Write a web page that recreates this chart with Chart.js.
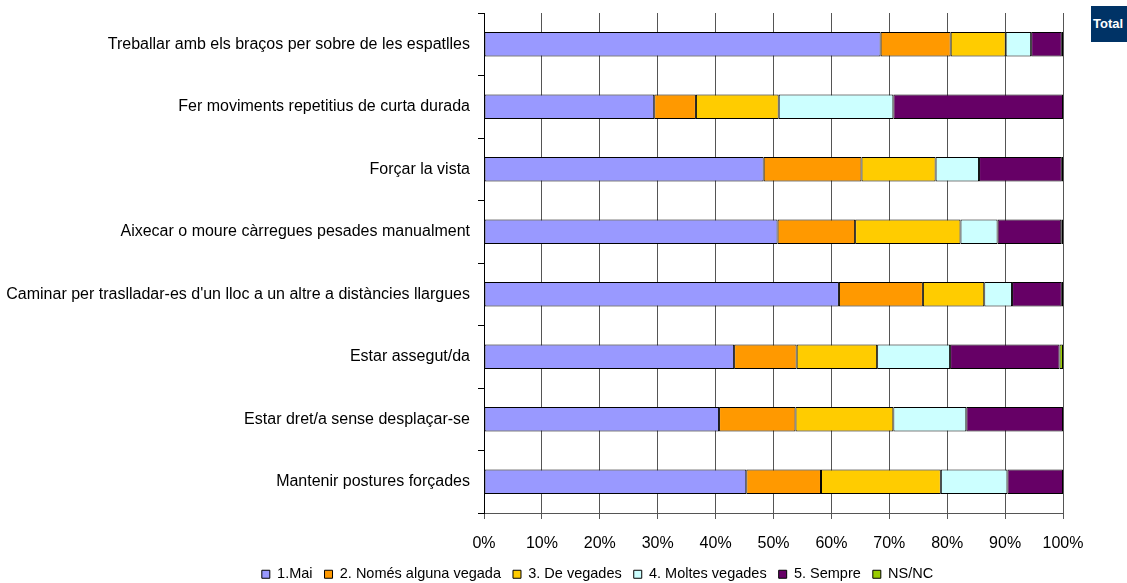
<!DOCTYPE html>
<html>
<head>
<meta charset="utf-8">
<script src="https://cdn.jsdelivr.net/npm/chart.js@4/dist/chart.umd.min.js"></script>
<style>
  html, body { margin: 0; padding: 0; background: #fff; }
  #wrap { position: relative; width: 1127px; height: 583px; }
  #total { position: absolute; left: 1091px; top: 6px; width: 36px; height: 36px; background: #003366;
           color: #fff; font: bold 13px 'Liberation Sans', Arial, sans-serif; line-height: 36px; text-align: left; padding-left: 2px; box-sizing: border-box; overflow: hidden; white-space: nowrap; }
</style>
</head>
<body>
<div id="wrap">
  <canvas id="c" width="1127" height="583"></canvas>
  <div id="total">Total</div>
</div>
<script>
const categories = [
  "Treballar amb els braços per sobre de les espatlles",
  "Fer moviments repetitius de curta durada",
  "Forçar la vista",
  "Aixecar o moure càrregues pesades manualment",
  "Caminar per traslladar-es d'un lloc a un altre a distàncies llargues",
  "Estar assegut/da",
  "Estar dret/a sense desplaçar-se",
  "Mantenir postures forçades"
];
const seriesNames = ["1.Mai", "2. Només alguna vegada", "3. De vegades", "4. Moltes vegades", "5. Sempre", "NS/NC"];
const mai          = [68.5, 29.4, 48.3, 50.7, 61.3, 43.2, 40.6, 45.3];
const algunaVegada = [12.1,  7.2, 16.9, 13.4, 14.5, 10.8, 13.2, 12.9];
const deVegades    = [ 9.5, 14.3, 12.8, 18.2, 10.6, 13.9, 16.9, 20.7];
const moltesVegades= [ 4.4, 19.8,  7.5,  6.4,  4.8, 12.6, 12.6, 11.5];
const sempre       = [ 5.3, 29.3, 14.3, 11.0,  8.6, 18.9, 16.7,  9.6];
const nsnc         = [ 0.2,  0.0,  0.2,  0.3,  0.2,  0.6,  0.0,  0.0];
const xTicks = [0, 10, 20, 30, 40, 50, 60, 70, 80, 90, 100];
const colors = ["#9999FF", "#FF9900", "#FFCC00", "#CCFFFF", "#660066", "#99CC00"];

const seriesValues = [mai, algunaVegada, deVegades, moltesVegades, sempre, nsnc];
const FONT = "'Liberation Sans', Arial, sans-serif";

const datasets = seriesValues.map((vals, i) => ({
  label: seriesNames[i],
  data: vals,
  backgroundColor: colors[i],
  borderColor: "#000000",
  borderWidth: 1,
  borderSkipped: false,
  categoryPercentage: 1,
  barPercentage: 0.39
}));

const legendShift = {
  id: "legendShift",
  afterLayout(chart) {
    const l = chart.legend;
    if (l) { l.left += 66; l.right += 66; }
  }
};

new Chart(document.getElementById("c"), {
  type: "bar",
  data: { labels: categories, datasets },
  plugins: [legendShift],
  options: {
    indexAxis: "y",
    responsive: false,
    animation: false,
    devicePixelRatio: 1,
    layout: { padding: { left: 0, right: 64, top: 13, bottom: 0 } },
    plugins: {
      tooltip: { enabled: false },
      legend: {
        position: "bottom",
        maxHeight: 28,
        labels: {
          font: { family: FONT, size: 14.5 },
          color: "#000",
          boxWidth: 8,
          boxHeight: 8,
          padding: 12
        }
      }
    },
    scales: {
      x: {
        stacked: true,
        min: 0,
        max: 100,
        afterBuildTicks: (s) => { s.ticks = xTicks.map(v => ({ value: v })); },
        afterFit: (s) => { s.height = 42; s.paddingLeft = 0; s.paddingRight = 0; },
        ticks: {
          callback: (v) => v + "%",
          font: { family: FONT, size: 16 },
          color: "#000",
          padding: 15,
          maxRotation: 0
        },
        grid: { color: "#555", lineWidth: 1, drawTicks: true, tickLength: 6, tickColor: "#555" },
        border: { color: "#555", width: 1 }
      },
      y: {
        stacked: true,
        afterFit: (s) => { s.width = 484; s.paddingTop = 0; s.paddingBottom = 0; },
        ticks: {
          font: { family: FONT, size: 16 },
          color: "#000",
          padding: 8,
          autoSkip: false
        },
        grid: { offset: true, drawOnChartArea: false, drawTicks: true, tickLength: 6, tickColor: "#000" },
        border: { color: "#000", width: 1 }
      }
    }
  }
});
</script>
</body>
</html>
